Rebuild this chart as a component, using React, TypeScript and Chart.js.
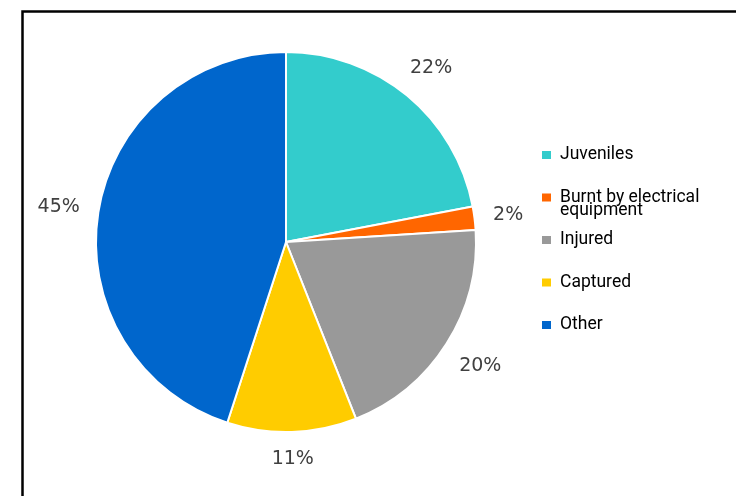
import React, { useEffect, useRef } from "react";
import { Chart, registerables } from "chart.js";

Chart.register(...registerables);

const categories = ["Juveniles", "Burnt by electrical equipment", "Injured", "Captured", "Other"];
const values = [22, 2, 20, 11, 45];
const percentLabels = ["22%", "2%", "20%", "11%", "45%"];
const colors = ["#33CCCC", "#FF6600", "#999999", "#FFCC00", "#0066CC"];

const framePlugin = {
  id: "frame",
  beforeDraw(chart: any) {
    const ctx = chart.ctx;
    ctx.save();
    ctx.fillStyle = "#ffffff";
    ctx.fillRect(0, 0, chart.width, chart.height);
    ctx.strokeStyle = "#000000";
    ctx.lineWidth = 2.5;
    ctx.strokeRect(22.5, 11.5, chart.width + 40, chart.height + 40);
    ctx.restore();
  },
};

const labelPlugin = {
  id: "pctLabels",
  afterDatasetsDraw(chart: any) {
    const ctx = chart.ctx;
    const meta = chart.getDatasetMeta(0);
    ctx.save();
    ctx.font = '19px "DejaVu Sans"';
    ctx.fillStyle = "#404040";
    ctx.textAlign = "center";
    ctx.textBaseline = "middle";
    meta.data.forEach((arc: any, i: number) => {
      const p = arc.getProps(["x", "y", "startAngle", "endAngle", "outerRadius"], true);
      const m = (p.startAngle + p.endAngle) / 2;
      const text = percentLabels[i];
      const w = ctx.measureText(text).width;
      const h = 16;
      const c = Math.cos(m);
      const s = Math.sin(m);
      const d = p.outerRadius + 18 + Math.abs((w / 2) * c) + Math.abs((h / 2) * s);
      ctx.fillText(text, p.x + d * c, p.y + d * s + 1);
    });
    ctx.restore();
  },
};

function wrap(ctx: any, text: string, maxW: number): string[] {
  const words = text.split(" ");
  const lines: string[] = [];
  let cur = "";
  for (const w of words) {
    const t = cur ? cur + " " + w : w;
    if (ctx.measureText(t).width > maxW && cur) {
      lines.push(cur);
      cur = w;
    } else cur = t;
  }
  if (cur) lines.push(cur);
  return lines;
}

const legendPlugin = {
  id: "customLegend",
  afterDraw(chart: any) {
    const ctx = chart.ctx;
    ctx.save();
    ctx.font = '17.5px "Roboto"';
    ctx.textBaseline = "middle";
    ctx.textAlign = "left";
    const x0 = 542;
    const y0 = 155;
    const step = 42.5;
    categories.forEach((cat, i) => {
      const y = y0 + i * step;
      ctx.fillStyle = colors[i];
      ctx.fillRect(x0, y - 4, 9, 8);
      ctx.fillStyle = "#000000";
      const lines = wrap(ctx, cat, 150);
      lines.forEach((ln, j) => {
        ctx.fillText(ln, x0 + 18, y + j * 13);
      });
    });
    ctx.restore();
  },
};

export default function App() {
  const ref = useRef<HTMLCanvasElement | null>(null);
  useEffect(() => {
    if (!ref.current) return;
    const chart = new Chart(ref.current, {
      type: "pie",
      data: {
        labels: categories,
        datasets: [
          {
            data: values,
            backgroundColor: colors,
            borderColor: "#ffffff",
            borderWidth: 2,
          },
        ],
      },
      options: {
        animation: false,
        responsive: true,
        maintainAspectRatio: false,
        layout: { padding: { left: 95, right: 259, top: 51, bottom: 63 } },
        plugins: {
          legend: { display: false },
          tooltip: { enabled: false },
        },
      },
      plugins: [framePlugin, labelPlugin, legendPlugin],
    });
    return () => chart.destroy();
  }, []);
  return (
    <div style={{ position: "fixed", left: 0, top: 0, width: 736, height: 496, background: "#fff" }}>
      <canvas ref={ref} />
    </div>
  );
}
